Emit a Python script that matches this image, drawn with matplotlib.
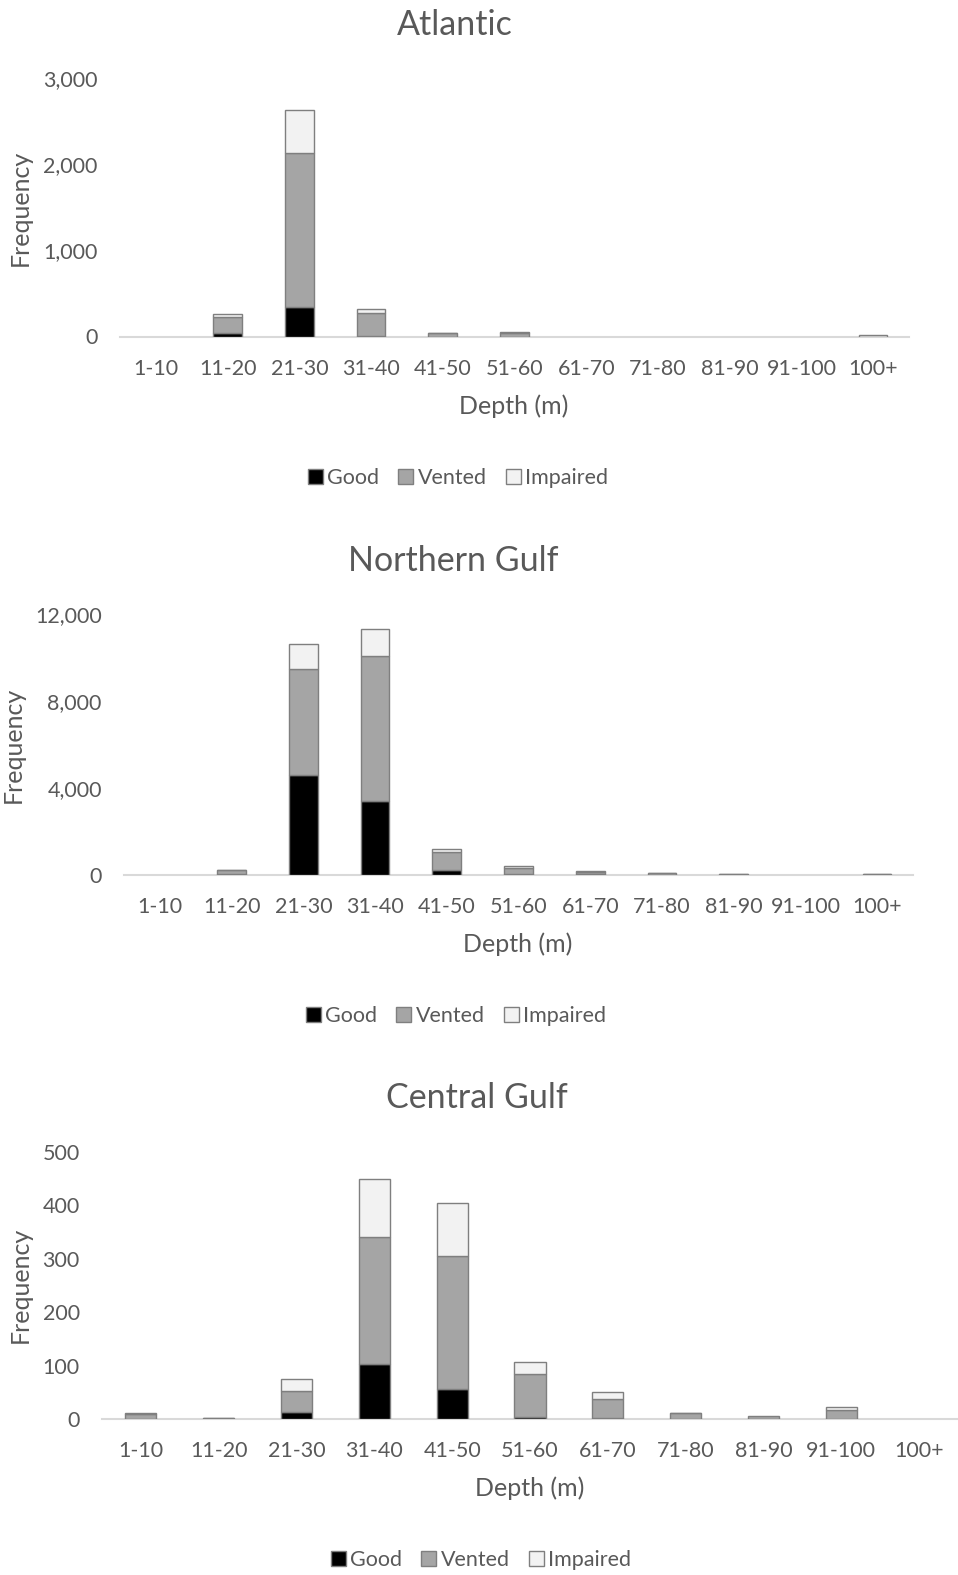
import matplotlib
matplotlib.use("Agg")
import matplotlib.pyplot as plt
from matplotlib.patches import Patch
from matplotlib.ticker import FuncFormatter
import numpy as np

plt.rcParams['font.family'] = ['Lato', 'DejaVu Sans']

categories = ["1-10", "11-20", "21-30", "31-40", "41-50", "51-60",
              "61-70", "71-80", "81-90", "91-100", "100+"]
series_names = ["Good", "Vented", "Impaired"]

atl_good     = [0, 40, 345, 5, 0, 0, 0, 0, 0, 0, 0]
atl_vented   = [0, 190, 1790, 265, 35, 45, 0, 0, 0, 0, 0]
atl_impaired = [0, 30, 490, 48, 5, 5, 0, 0, 0, 0, 15]

ng_good     = [0, 10, 4600, 3370, 200, 20, 10, 5, 0, 0, 0]
ng_vented   = [0, 200, 4870, 6700, 850, 300, 120, 80, 30, 0, 30]
ng_impaired = [0, 20, 1120, 1200, 140, 70, 20, 15, 20, 0, 10]

cg_good     = [0, 0, 14, 103, 56, 3, 1, 0, 0, 0, 0]
cg_vented   = [10, 1, 38, 238, 249, 81, 37, 11, 5, 17, 0]
cg_impaired = [1, 1, 23, 108, 99, 23, 12, 1, 0, 5, 0]

W, H = 958, 1575
fig = plt.figure(figsize=(W / 100, H / 100), dpi=100)

colors = ["#000000", "#A5A5A5", "#F2F2F2"]
edge = "#7F7F7F"
txt = "#595959"

TICK_FS = 15.5
AXT_FS = 18
TITLE_FS = 24.5
LEG_FS = 15.5

panels = [
    dict(title="Atlantic", data=(atl_good, atl_vented, atl_impaired),
         box=(120, 909, 78, 336.5), ymax=3000, step=1000,
         title_xy=(455, 25), ylab_xy=(20, 208), xlab_xy=(514, 406), leg_xy=(458, 478)),
    dict(title="Northern Gulf", data=(ng_good, ng_vented, ng_impaired),
         box=(124, 913, 613.6, 874.7), ymax=12000, step=4000,
         title_xy=(453, 561), ylab_xy=(13, 745), xlab_xy=(518, 944), leg_xy=(456, 1016)),
    dict(title="Central Gulf", data=(cg_good, cg_vented, cg_impaired),
         box=(102, 958, 1152, 1419), ymax=500, step=100,
         title_xy=(477, 1098), ylab_xy=(20, 1285), xlab_xy=(530, 1488), leg_xy=(481, 1560)),
]

x = np.arange(len(categories))
for p in panels:
    l, r, t, b = p["box"]
    ax = fig.add_axes([l / W, 1 - b / H, (r - l) / W, (b - t) / H])
    bottom = np.zeros(len(categories))
    for vals, col in zip(p["data"], colors):
        vals = np.array(vals, dtype=float)
        lws = [1.0 if v > 0 else 0.0 for v in vals]
        ax.bar(x, vals, width=0.4, bottom=bottom, color=col,
               edgecolor=edge, linewidth=lws, zorder=3)
        bottom += vals
    ax.set_xlim(-0.5, len(categories) - 0.5)
    ax.set_ylim(0, p["ymax"])
    ax.set_yticks(np.arange(0, p["ymax"] + 1, p["step"]))
    ax.yaxis.set_major_formatter(FuncFormatter(lambda v, pos: f"{int(v):,}"))
    ax.set_xticks(x)
    ax.set_xticklabels(categories)
    for s in ["top", "right", "left"]:
        ax.spines[s].set_visible(False)
    ax.spines["bottom"].set_color("#D9D9D9")
    ax.spines["bottom"].set_linewidth(1.5)
    ax.spines["bottom"].set_zorder(1)
    ax.tick_params(axis="both", length=0, colors=txt, labelsize=TICK_FS)
    ax.tick_params(axis="x", pad=16)
    ax.tick_params(axis="y", pad=16)
    ax.patch.set_alpha(0)

    tx, ty = p["title_xy"]
    fig.text(tx / W, 1 - ty / H, p["title"], ha="center", va="center",
             fontsize=TITLE_FS, color=txt)
    yx, yy = p["ylab_xy"]
    fig.text(yx / W, 1 - yy / H, "Frequency", ha="center", va="center",
             rotation=90, fontsize=AXT_FS, color=txt)
    xx, xy = p["xlab_xy"]
    fig.text(xx / W, 1 - xy / H, "Depth (m)", ha="center", va="center",
             fontsize=AXT_FS, color=txt)
    lx, ly = p["leg_xy"]
    handles = [Patch(facecolor=c, edgecolor=edge, linewidth=1.0, label=n)
               for c, n in zip(colors, series_names)]
    fig.legend(handles=handles, loc="center", bbox_to_anchor=(lx / W, 1 - ly / H),
               ncol=3, frameon=False, fontsize=LEG_FS, handlelength=0.7,
               handleheight=0.7, handletextpad=0.2, columnspacing=0.9,
               labelcolor=txt)

fig.savefig("out.png", dpi=100, facecolor="white")
